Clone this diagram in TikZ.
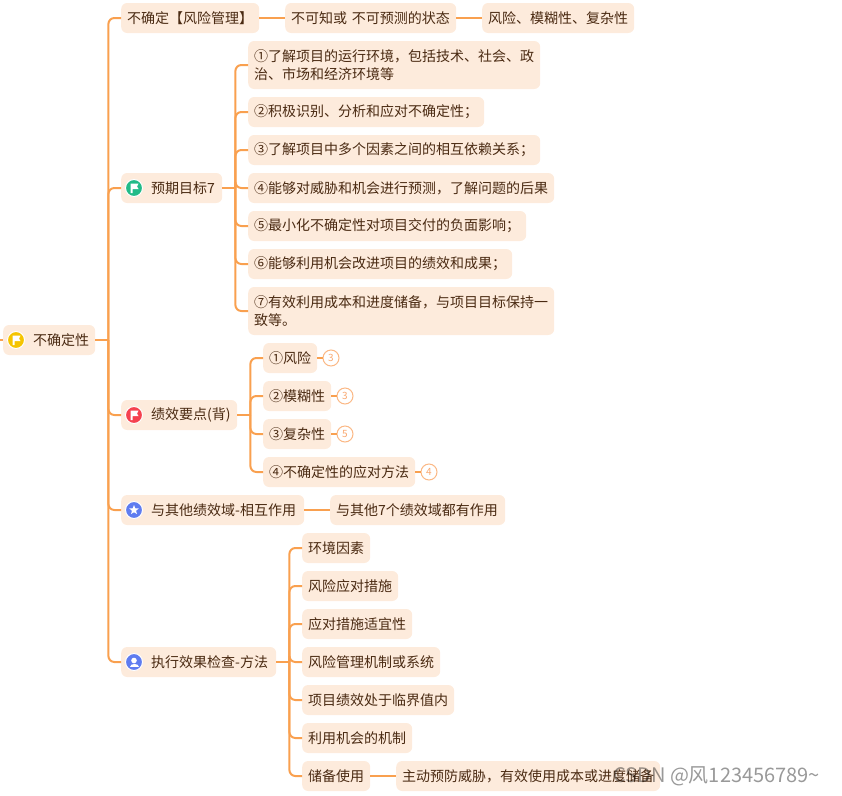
\documentclass[tikz,border=0pt]{standalone}
\usepackage{fontspec}
\setmainfont{Noto Sans CJK SC}
\usetikzlibrary{shapes.geometric}
\definecolor{boxfill}{HTML}{FDEBDC}
\definecolor{linecol}{HTML}{F9A04F}
\definecolor{txtcol}{HTML}{4A2A12}
\definecolor{ringcol}{HTML}{FBB885}
\definecolor{ringtxt}{HTML}{F9A870}
\definecolor{icoyellow}{HTML}{F5C400}
\definecolor{icogreen}{HTML}{22BB88}
\definecolor{icored}{HTML}{F5414F}
\definecolor{icoblue}{HTML}{5F7CF0}
\tikzset{
  x=1pt,y=-1pt,
  box/.style={anchor=west,fill=boxfill,rounded corners=6pt,text=txtcol,
    font=\fontsize{14pt}{18pt}\selectfont,align=left,inner xsep=6pt,inner ysep=0pt,
    text width=#1pt-12pt,minimum height=30pt},
  tall/.style={minimum height=48pt},
  link/.style={draw=linecol,line width=2pt},
  badge/.style={circle,draw=ringcol,fill=white,line width=1pt,text=ringtxt,
    minimum size=16pt,inner sep=0pt,font=\fontsize{10pt}{10pt}\selectfont},
  ico/.style={circle,fill=#1,draw=white,line width=1pt,minimum size=17pt,inner sep=0pt},
}
\newcommand{\kid}[2]{%
  \draw[link] (#1.east) -- ([xshift=13pt]#1.east);
  \draw[link,rounded corners=6pt] ([xshift=13pt]#1.east) |- (#2.west);}
\newcommand{\flagmark}[1]{%
  \fill[white] ([xshift=-3.5pt,yshift=-5pt]#1.center) -- ([xshift=-3.5pt,yshift=4.5pt]#1.center) -- ([xshift=4.5pt,yshift=4.5pt]#1.center)
   -- ([xshift=3pt,yshift=1.5pt]#1.center) -- ([xshift=4.5pt,yshift=-1pt]#1.center) -- ([xshift=-1.5pt,yshift=-1pt]#1.center) -- ([xshift=-1.5pt,yshift=-5pt]#1.center) -- cycle;}
\newcommand{\ind}{\hspace*{24pt}}
\begin{document}
\begin{tikzpicture}
\useasboundingbox (0,0) rectangle (842,795);
% nodes
\node[box=92] (root) at (3,340) {\ind 不确定性};
\node[box=138] (n1) at (121,18) {不确定【风险管理】};
\node[box=171] (n1a) at (285,18) {不可知或 不可预测的状态};
\node[box=152] (n1b) at (482,18) {风险、模糊性、复杂性};
\node[box=101] (n2) at (121,188) {\ind 预期目标7};
\node[box=292,tall] (c1) at (248,65) {①了解项目的运行环境，包括技术、社会、政\\治、市场和经济环境等};
\node[box=236] (c2) at (248,112) {②积极识别、分析和应对不确定性；};
\node[box=292] (c3) at (248,150) {③了解项目中多个因素之间的相互依赖关系；};
\node[box=306] (c4) at (248,188) {④能够对威胁和机会进行预测，了解问题的后果};
\node[box=278] (c5) at (248,226) {⑤最小化不确定性对项目交付的负面影响；};
\node[box=264] (c6) at (248,264) {⑥能够利用机会改进项目的绩效和成果；};
\node[box=306,tall] (c7) at (248,311) {⑦有效利用成本和进度储备，与项目目标保持一\\致等。};
\node[box=116] (n3) at (121,415) {\ind 绩效要点(背)};
\node[box=54] (d1) at (263,358) {①风险};
\node[box=68] (d2) at (263,396) {②模糊性};
\node[box=68] (d3) at (263,434) {③复杂性};
\node[box=152] (d4) at (263,472) {④不确定性的应对方法};
\node[badge] (b1) at (331,358) {3};
\node[badge] (b2) at (345,396) {3};
\node[badge] (b3) at (345,434) {5};
\node[badge] (b4) at (429,472) {4};
\node[box=183] (n4) at (121,510) {\ind 与其他绩效域-相互作用};
\node[box=175] (n4a) at (330,510) {与其他7个绩效域都有作用};
\node[box=155] (n5) at (121,662) {\ind 执行效果检查-方法};
\node[box=68] (e1) at (302,548) {环境因素};
\node[box=96] (e2) at (302,586) {风险应对措施};
\node[box=110] (e3) at (302,624) {应对措施适宜性};
\node[box=138] (e4) at (302,662) {风险管理机制或系统};
\node[box=152] (e5) at (302,700) {项目绩效处于临界值内};
\node[box=110] (e6) at (302,738) {利用机会的机制};
\node[box=68] (e7) at (302,776) {储备使用};
\node[box=264] (e7a) at (396,776) {主动预防威胁，有效使用成本或进度储备};
% icons
\node[ico=icoyellow] (i0) at (16,340) {};
\flagmark{i0}
\node[ico=icogreen] (i2) at (134,188) {};
\flagmark{i2}
\node[ico=icored] (i3) at (134,415) {};
\flagmark{i3}
\node[ico=icoblue] (i4) at (134,510) {};
\node[star,star points=5,star point ratio=2.3,fill=white,minimum size=10pt,inner sep=0pt] (i4s) at (i4) {};
\node[ico=icoblue] (i5) at (134,662) {};
\fill[white] ([yshift=1.5pt]i5.center) circle (2.8pt);
\fill[white] ([xshift=-4.5pt,yshift=-5pt]i5.center) .. controls ([xshift=-4.5pt,yshift=-1pt]i5.center) and ([xshift=4.5pt,yshift=-1pt]i5.center) .. ([xshift=4.5pt,yshift=-5pt]i5.center) -- cycle;
% connectors
\coordinate (rootin) at (0,340);
\draw[link] (rootin) -- (root.west);
\kid{root}{n1}\kid{root}{n2}\kid{root}{n3}\kid{root}{n4}\kid{root}{n5}
\draw[link] (n1.east) -- (n1a.west);
\draw[link] (n1a.east) -- (n1b.west);
\kid{n2}{c1}\kid{n2}{c2}\kid{n2}{c3}\kid{n2}{c4}\kid{n2}{c5}\kid{n2}{c6}\kid{n2}{c7}
\kid{n3}{d1}\kid{n3}{d2}\kid{n3}{d3}\kid{n3}{d4}
\draw[link] (d1.east) -- (b1.west);
\draw[link] (d2.east) -- (b2.west);
\draw[link] (d3.east) -- (b3.west);
\draw[link] (d4.east) -- (b4.west);
\draw[link] (n4.east) -- (n4a.west);
\kid{n5}{e1}\kid{n5}{e2}\kid{n5}{e3}\kid{n5}{e4}\kid{n5}{e5}\kid{n5}{e6}\kid{n5}{e7}
\draw[link] (e7.east) -- (e7a.west);
% watermark
\node[anchor=west,inner sep=0pt,text=black,opacity=0.4,font=\fontsize{20pt}{22pt}\selectfont] (wm) at (613,776) {CSDN @风123456789\textasciitilde};
\end{tikzpicture}
\end{document}
